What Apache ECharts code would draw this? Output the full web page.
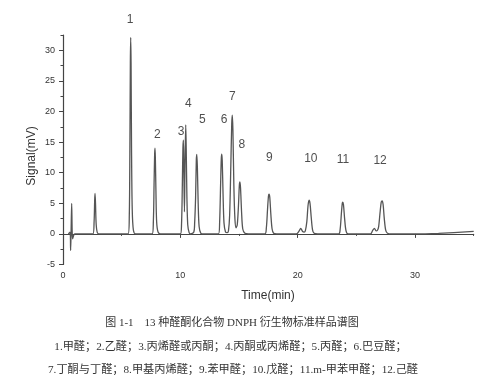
<!DOCTYPE html>
<html><head><meta charset="utf-8">
<script src="https://cdn.jsdelivr.net/npm/echarts@6/dist/echarts.min.js"></script>
<style>html,body{margin:0;padding:0;background:#fff}#c{width:489px;height:391px}</style>
</head><body><div id="c"></div>
<script>
// Chromatogram trace: time (min) and signal (mV)
const timeMin = [
  0.45, 0.6, 0.65, 0.7, 0.74, 0.78, 0.82, 0.9, 1.0,
  2.55, 2.65, 2.7, 2.73, 2.77, 2.83, 2.95, 3.2,
  5.55, 5.65, 5.7, 5.74, 5.77, 5.8, 5.84, 5.9, 6.0, 6.2,
  7.6, 7.7, 7.76, 7.81, 7.84, 7.87, 7.92, 7.98, 8.1, 8.3,
  10.0, 10.1, 10.17, 10.22, 10.26, 10.3, 10.35, 10.4, 10.46, 10.5, 10.56, 10.63, 10.75, 10.85,
  11.15, 11.22, 11.3, 11.36, 11.4, 11.45, 11.52, 11.6, 11.75, 12.0,
  13.25, 13.35, 13.43, 13.49, 13.53, 13.57, 13.64, 13.72, 13.85, 14.0,
  14.1, 14.2, 14.3, 14.38, 14.43, 14.48, 14.56, 14.65, 14.75,
  14.85, 14.95, 15.03, 15.08, 15.13, 15.22, 15.32, 15.5, 15.8,
  17.2, 17.33, 17.43, 17.51, 17.56, 17.62, 17.72, 17.82, 17.95, 18.2,
  19.9, 20.1, 20.26, 20.42, 20.55,
  20.65, 20.78, 20.88, 20.97, 21.05, 21.15, 21.27, 21.4, 21.7,
  23.5, 23.62, 23.73, 23.8, 23.84, 23.9, 24.0, 24.12, 24.3,
  26.2, 26.4, 26.54, 26.68, 26.8,
  26.9, 27.02, 27.12, 27.2, 27.28, 27.38, 27.5, 27.65, 28.0,
  30.0, 32.0, 35.0
];
const signalMV = [
  0, 0.3, -2.7, 1.5, 5.0, 0.5, -0.8, -0.3, 0,
  0, 2.0, 5.5, 6.6, 5.0, 1.5, 0.1, 0,
  0, 3, 14, 28, 32.1, 28, 14, 4, 0.6, 0,
  0, 2, 8, 13, 14, 12.5, 7, 2, 0.3, 0,
  0, 1.5, 8, 14, 15.3, 10, 3.6, 12, 17.8, 14, 6, 1.5, 0.2, 0,
  0.3, 1.8, 6, 12, 13, 11, 5, 1.2, 0.1, 0,
  0, 2, 8, 12.3, 13.05, 12, 6.5, 1.8, 0.3, 0.2,
  0.5, 3, 11, 18, 19.4, 17, 8, 2.5, 1.0,
  1.5, 4.5, 8, 8.5, 7.5, 3.5, 0.8, 0.1, 0,
  0, 1, 4, 6.2, 6.5, 6, 3, 0.8, 0.1, 0,
  0, 0.4, 0.9, 0.4, 0.3,
  0.5, 2, 4.6, 5.5, 5, 2.8, 0.6, 0.1, 0,
  0, 0.8, 3.5, 5, 5.2, 4.8, 2.5, 0.5, 0,
  0, 0.6, 0.9, 0.5, 0.6,
  1.2, 3.5, 5.2, 5.4, 4.8, 2.5, 0.6, 0.1, 0,
  0, 0.1, 0.4
];
// Peak number labels and where they sit (time, signal)
const peakLabels = ['1','2','3','4','5','6','7','8','9','10','11','12'];
const labelTime = [5.71, 8.04, 10.06, 10.68, 11.88, 13.73, 14.43, 15.23, 17.59, 21.12, 23.85, 27.02];
const labelSignal = [35.0, 16.15, 16.7, 21.2, 18.6, 18.7, 22.4, 14.5, 12.45, 12.35, 12.2, 11.95];
// Axis ticks
const xMajorTicks = [0, 10, 20, 30];
const xMinorTicks = [5, 15, 25, 35];
const yMajorTicks = [-5, 0, 5, 10, 15, 20, 25, 30];
const yMinorTicks = [-2.5, 2.5, 7.5, 12.5, 17.5, 22.5, 27.5, 32.5];
// Texts
const xTitle = 'Time(min)';
const yTitle = 'Signal(mV)';
const captionLines = [
  '图 1-1    13 种醛酮化合物 DNPH 衍生物标准样品谱图',
  '1.甲醛；2.乙醛；3.丙烯醛或丙酮；4.丙酮或丙烯醛；5.丙醛；6.巴豆醛；',
  '7.丁酮与丁醛；8.甲基丙烯醛；9.苯甲醛；10.戊醛；11.m-甲苯甲醛；12.己醛'
];

const trace = timeMin.map((t, i) => [t, signalMV[i]]);
const labelPts = labelTime.map((t, i) => ({value: [t, labelSignal[i]], name: peakLabels[i]}));

const axisColor = '#444';
const baseFont = 'Liberation Sans, Arial, sans-serif';
const capFont = '"Liberation Serif", "Noto Sans CJK SC", serif';

const chart = echarts.init(document.getElementById('c'), null, {renderer: 'canvas'});
chart.setOption({
  animation: false,
  backgroundColor: '#fff',
  grid: {left: 63, right: 15.3, top: 35, bottom: 126.5, containLabel: false},
  xAxis: [{
    type: 'value', min: 0, max: 35, interval: 10,
    axisLine: {show: true, lineStyle: {color: axisColor, width: 1.2}},
    axisTick: {show: true, length: 4, customValues: xMajorTicks, lineStyle: {color: axisColor}},
    axisLabel: {customValues: xMajorTicks, color: '#333', fontSize: 9, margin: 7, fontFamily: baseFont},
    splitLine: {show: false}
  }, {
    type: 'value', min: 0, max: 35, position: 'bottom',
    axisLine: {show: false},
    axisTick: {show: true, length: 2, customValues: xMinorTicks, lineStyle: {color: axisColor}},
    axisLabel: {show: false}, splitLine: {show: false}
  }],
  yAxis: [{
    type: 'value', min: -5, max: 32.5, interval: 5,
    axisLine: {show: true, lineStyle: {color: axisColor, width: 1.2}},
    axisTick: {show: true, length: 4, customValues: yMajorTicks, lineStyle: {color: axisColor}},
    axisLabel: {customValues: yMajorTicks, color: '#333', fontSize: 9, margin: 8, fontFamily: baseFont},
    splitLine: {show: false}
  }, {
    type: 'value', min: -5, max: 32.5, position: 'left',
    axisLine: {show: false},
    axisTick: {show: true, length: 2.5, customValues: yMinorTicks, lineStyle: {color: axisColor}},
    axisLabel: {show: false}, splitLine: {show: false}
  }],
  series: [{
    type: 'line', data: trace, xAxisIndex: 0, yAxisIndex: 0,
    symbol: 'none', smooth: 0.3, clip: true,
    lineStyle: {color: '#555', width: 1.3}
  }, {
    type: 'scatter', data: labelPts, symbolSize: 1, clip: false,
    itemStyle: {color: 'rgba(0,0,0,0)'},
    label: {show: true, position: 'inside', formatter: p => p.name,
      color: '#222', fontSize: 12, fontFamily: baseFont}
  }],
  graphic: [
    {type: 'text', x: 31.5, y: 156, rotation: Math.PI / 2,
      style: {text: yTitle, fill: '#333', font: '12px ' + baseFont, textAlign: 'center', textVerticalAlign: 'middle'}},
    {type: 'text', x: 268, y: 296,
      style: {text: xTitle, fill: '#333', font: '12px ' + baseFont, textAlign: 'center', textVerticalAlign: 'middle'}},
    {type: 'text', x: 232, y: 323.5,
      style: {text: captionLines[0], fill: '#333', font: '11px ' + capFont, textAlign: 'center', textVerticalAlign: 'middle'}},
    {type: 'text', x: 230.5, y: 347,
      style: {text: captionLines[1], fill: '#333', font: '11.2px ' + capFont, textAlign: 'center', textVerticalAlign: 'middle'}},
    {type: 'text', x: 233, y: 370,
      style: {text: captionLines[2], fill: '#333', font: '11.2px ' + capFont, textAlign: 'center', textVerticalAlign: 'middle'}}
  ]
});
</script></body></html>
